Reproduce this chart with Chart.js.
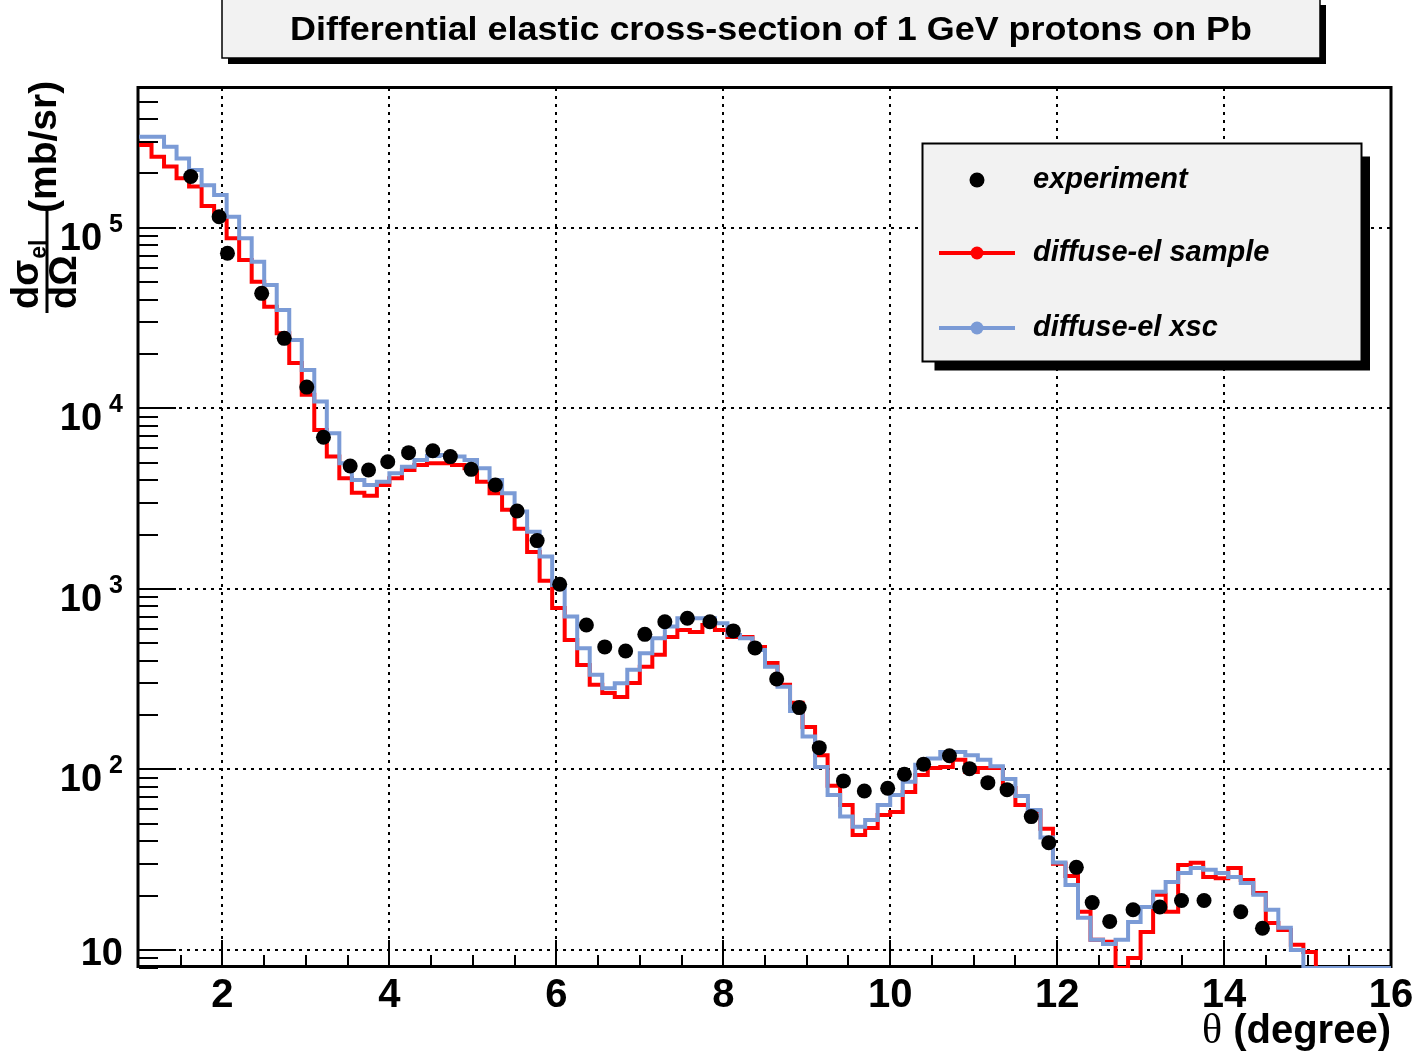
<!DOCTYPE html>
<html>
<head>
<meta charset="utf-8">
<title>Differential elastic cross-section of 1 GeV protons on Pb</title>
<script src="https://cdn.jsdelivr.net/npm/chart.js@4.4.1/dist/chart.umd.min.js"></script>
<style>
    html, body { margin: 0; padding: 0; background: #ffffff; }
    #wrap { width: 1416px; height: 1061px; }
</style>
</head>
<body>
<div id="wrap"><canvas id="myChart" width="1416" height="1061"></canvas></div>
<script>
// histogram binning: 100 bins of 0.15 degree starting at 1 degree
const BIN_LOW = 1.0;
const BIN_WIDTH = 0.15;
const X_MIN = 1, X_MAX = 16;
const Y_MIN = 7.95, Y_MAX = 5.94e5;

// measured points
const expTheta = [1.62, 1.96, 2.06, 2.47, 2.74, 3.01, 3.21, 3.53, 3.75, 3.98,
    4.23, 4.52, 4.73, 4.98, 5.27, 5.53, 5.77, 6.04, 6.36, 6.58,
    6.83, 7.06, 7.30, 7.57, 7.84, 8.12, 8.38, 8.64, 8.91, 9.15,
    9.44, 9.69, 9.97, 10.17, 10.40, 10.71, 10.95, 11.17, 11.40, 11.69,
    11.90, 12.23, 12.42, 12.63, 12.91, 13.23, 13.49, 13.76, 14.20, 14.46];
const expXsec = [1.92e5, 1.15e5, 7.22e4, 4.33e4, 2.44e4, 1.31e4, 6.91e3, 4.79e3, 4.55e3, 5.06e3,
    5.68e3, 5.82e3, 5.40e3, 4.59e3, 3.76e3, 2.70e3, 1.85e3, 1.06e3, 631, 477,
    453, 560, 658, 687, 658, 585, 471, 317, 220, 132,
    86.4, 76.0, 78.7, 94.0, 107, 119, 101, 84.5, 77.3, 54.8,
    39.3, 28.7, 18.3, 14.4, 16.7, 17.3, 18.8, 18.8, 16.3, 13.2];

// bin contents of the sampled histogram (red)
const sampleXsec = [2.87e5, 2.47e5, 2.18e5, 1.88e5, 1.69e5, 1.32e5, 1.15e5, 8.74e4, 6.63e4, 5.02e4,
    3.65e4, 2.60e4, 1.78e4, 1.19e4, 7.58e3, 5.40e3, 4.10e3, 3.41e3, 3.28e3, 3.76e3,
    4.10e3, 4.55e3, 4.85e3, 4.96e3, 4.96e3, 4.85e3, 4.65e3, 3.92e3, 3.38e3, 2.74e3,
    2.15e3, 1.60e3, 1.11e3, 784, 521, 379, 294, 265, 252, 301,
    370, 431, 542, 592, 577, 631, 592, 542, 542, 477,
    389, 294, 234, 172, 120, 81.1, 63.6, 43.4, 47.4, 56.0,
    58.2, 75.1, 93.2, 102, 103, 113, 96.9, 102, 102, 79.0,
    63.6, 58.9, 46.9, 30.0, 25.7, 16.3, 11.4, 11.1, 0, 9.04,
    12.6, 20.2, 16.3, 29.6, 30.4, 25.4, 25.0, 28.5, 24.4, 20.7,
    14.1, 12.9, 10.7, 9.76, 0, 0, 0, 0, 0, 0];

// bin contents of the cross-section histogram (blue)
const xscXsec = [3.19e5, 3.19e5, 2.81e5, 2.42e5, 2.09e5, 1.72e5, 1.52e5, 1.15e5, 8.74e4, 6.48e4,
    4.82e4, 3.50e4, 2.39e4, 1.63e4, 1.09e4, 7.27e3, 4.96e3, 4.01e3, 3.76e3, 3.92e3,
    4.37e3, 4.75e3, 5.17e3, 5.45e3, 5.52e3, 5.40e3, 5.17e3, 4.65e3, 4.01e3, 3.38e3,
    2.68e3, 2.07e3, 1.51e3, 1.05e3, 702, 469, 334, 282, 300, 356,
    440, 533, 618, 688, 688, 688, 645, 556, 533, 459,
    371, 287, 211, 152, 103, 72.2, 54.8, 48.2, 52.5, 63.6,
    72.2, 85.6, 106, 115, 125, 125, 120, 113, 104, 88.6,
    71.3, 59.7, 42.0, 30.5, 22.9, 15.1, 11.4, 10.8, 11.4, 14.3,
    17.3, 21.0, 23.8, 26.7, 28.5, 27.8, 26.7, 25.4, 23.5, 20.2,
    16.7, 13.3, 10.0, 0, 0, 0, 0, 0, 0, 0];

const xTickLabels = [2, 4, 6, 8, 10, 12, 14, 16];
const yDecades = [1, 2, 3, 4, 5];   // exponents of the labelled decades

const titleText = 'Differential elastic cross-section of 1 GeV protons on Pb';
const legendLabels = ['experiment', 'diffuse-el sample', 'diffuse-el xsc'];

const SANS = '"Liberation Sans", Arial, Helvetica, sans-serif';
const RED = '#ff0000';
const BLUE = '#7b9bd6';

// histogram -> step line points (left edge of each bin + closing right edge)
function histPoints(values) {
    const pts = values.map((v, i) => ({x: BIN_LOW + i * BIN_WIDTH, y: Math.max(v, Y_MIN)}));
    const last = values[values.length - 1];
    pts.push({x: BIN_LOW + values.length * BIN_WIDTH, y: Math.max(last, Y_MIN)});
    return pts;
}

function drawAxes(chart) {
    const {ctx, chartArea: a, scales: {x, y}} = chart;
    ctx.save();

    // dotted grid
    ctx.strokeStyle = '#000';
    ctx.lineWidth = 2;
    ctx.setLineDash([3, 5]);
    xTickLabels.forEach(v => {
        if (v >= X_MAX) return;
        const px = Math.round(x.getPixelForValue(v));
        ctx.beginPath(); ctx.moveTo(px, a.top); ctx.lineTo(px, a.bottom); ctx.stroke();
    });
    yDecades.forEach(e => {
        const py = Math.round(y.getPixelForValue(Math.pow(10, e)));
        ctx.beginPath(); ctx.moveTo(a.left, py); ctx.lineTo(a.right, py); ctx.stroke();
    });
    ctx.setLineDash([]);

    // x ticks (inside the frame)
    for (let k = 1; k < (X_MAX - X_MIN) * 2; k++) {
        const v = X_MIN + k * 0.5;
        const px = Math.round(x.getPixelForValue(v));
        const len = (v % 2 === 0) ? 28 : 13;
        ctx.beginPath(); ctx.moveTo(px, a.bottom); ctx.lineTo(px, a.bottom - len); ctx.stroke();
    }
    // y ticks, log scale
    for (let e = 0; e <= 5; e++) {
        for (let m = 1; m <= 9; m++) {
            const v = m * Math.pow(10, e);
            if (v < Y_MIN || v > Y_MAX) continue;
            const py = Math.round(y.getPixelForValue(v));
            const len = m === 1 ? 37 : 19;
            ctx.beginPath(); ctx.moveTo(a.left, py); ctx.lineTo(a.left + len, py); ctx.stroke();
        }
    }

    // frame
    ctx.lineWidth = 3;
    ctx.strokeRect(a.left - 1, a.top - 0.5, a.right - a.left + 1, a.bottom - a.top - 1);
    ctx.restore();
}

function drawLabels(chart) {
    const {ctx, scales: {x, y}} = chart;
    ctx.save();
    ctx.fillStyle = '#000';

    // x labels
    ctx.font = 'bold 40px ' + SANS;
    ctx.textAlign = 'center';
    ctx.textBaseline = 'alphabetic';
    xTickLabels.forEach(v => {
        ctx.fillText(String(v), x.getPixelForValue(v), 1007);
    });

    // y labels 10, 10^2 ... 10^5
    ctx.textAlign = 'right';
    yDecades.forEach(e => {
        const py = y.getPixelForValue(Math.pow(10, e));
        if (e === 1) {
            ctx.font = 'bold 38px ' + SANS;
            ctx.fillText('10', 123, py + 15);
            return;
        }
        ctx.font = 'bold 25px ' + SANS;
        const sup = String(e);
        const sw = ctx.measureText(sup).width;
        ctx.fillText(sup, 123, py + 4);
        ctx.font = 'bold 38px ' + SANS;
        ctx.fillText('10', 123 - sw - 7, py + 22);
    });

    // x title
    ctx.textAlign = 'left';
    ctx.font = 'bold 40px ' + SANS;
    const unit = ' (degree)';
    const uw = ctx.measureText(unit).width;
    ctx.fillText(unit, 1391 - uw, 1043);
    ctx.font = '42px "Liberation Serif", "DejaVu Serif", serif';
    const tw = ctx.measureText('θ').width;
    ctx.fillText('θ', 1391 - uw - tw, 1043);

    // y title: d sigma_el / d Omega (mb/sr), rotated
    ctx.translate(47, 313);
    ctx.rotate(-Math.PI / 2);
    ctx.textAlign = 'left';
    ctx.font = 'bold 38px ' + SANS;
    ctx.fillText('dσ', 4, -9);
    const nw = ctx.measureText('dσ').width;
    ctx.font = 'bold 23px ' + SANS;
    ctx.fillText('el', 4 + nw + 1, -1);
    ctx.font = 'bold 38px ' + SANS;
    ctx.fillText('dΩ', 4, 29);
    ctx.fillRect(0, -1.5, 106, 3);
    ctx.font = 'bold 39px ' + SANS;
    ctx.fillText('(mb/sr)', 100, 9);
    ctx.restore();
}

function drawTitle(chart) {
    const {ctx} = chart;
    ctx.save();
    // shadow then box
    ctx.fillStyle = '#000';
    ctx.fillRect(228, 5, 1098, 59);
    ctx.fillStyle = '#f2f2f2';
    ctx.fillRect(222, -2, 1098, 60);
    ctx.strokeStyle = '#000';
    ctx.lineWidth = 1.5;
    ctx.strokeRect(222, -2, 1098, 60);
    ctx.fillStyle = '#000';
    ctx.font = 'bold 33px ' + SANS;
    ctx.textAlign = 'center';
    ctx.textBaseline = 'alphabetic';
    // the original font runs a bit wider than Liberation Sans
    const w = ctx.measureText(titleText).width;
    ctx.translate(771, 40);
    ctx.scale(962 / w, 1);
    ctx.fillText(titleText, 0, 0);
    ctx.restore();
}

function drawLegend(chart) {
    const {ctx} = chart;
    const box = {x: 922.5, y: 143.5, w: 439, h: 218};
    ctx.save();
    ctx.fillStyle = '#000';
    ctx.fillRect(box.x + 12, box.y + 13, box.w - 3.5, box.h - 4);
    ctx.fillStyle = '#f2f2f2';
    ctx.fillRect(box.x, box.y, box.w, box.h);
    ctx.strokeStyle = '#000';
    ctx.lineWidth = 2;
    ctx.strokeRect(box.x, box.y, box.w, box.h);

    const rows = [180, 253, 328];
    const markerX = 977;
    const order = [2, 0, 1]; // experiment, sample, xsc
    order.forEach((di, r) => {
        const ds = chart.data.datasets[di];
        const yy = rows[r];
        if (ds.showLine !== false) {
            ctx.strokeStyle = ds.borderColor;
            ctx.lineWidth = 4;
            ctx.beginPath(); ctx.moveTo(939, yy); ctx.lineTo(1015, yy); ctx.stroke();
            ctx.fillStyle = ds.borderColor;
            ctx.beginPath(); ctx.arc(markerX, yy, 6.5, 0, Math.PI * 2); ctx.fill();
        } else {
            ctx.fillStyle = '#000';
            ctx.beginPath(); ctx.arc(markerX, yy, 7.5, 0, Math.PI * 2); ctx.fill();
        }
        ctx.fillStyle = '#000';
        ctx.font = 'italic bold 29px ' + SANS;
        ctx.textAlign = 'left';
        ctx.textBaseline = 'middle';
        ctx.fillText(legendLabels[r], 1033, yy);
    });
    ctx.restore();
}

const rootStyle = {
    id: 'rootStyle',
    beforeDatasetsDraw(chart) { drawAxes(chart); },
    afterDraw(chart) {
        drawLabels(chart);
        drawTitle(chart);
        drawLegend(chart);
    }
};

const ctx = document.getElementById('myChart').getContext('2d');
window.myChart = new Chart(ctx, {
    type: 'line',
    data: {
        datasets: [
            {
                label: legendLabels[1],
                data: histPoints(sampleXsec),
                borderColor: RED,
                borderWidth: 4,
                stepped: 'before',
                pointRadius: 0,
                fill: false,
                order: 3
            },
            {
                label: legendLabels[2],
                data: histPoints(xscXsec),
                borderColor: BLUE,
                borderWidth: 4,
                stepped: 'before',
                pointRadius: 0,
                fill: false,
                order: 2
            },
            {
                type: 'scatter',
                label: legendLabels[0],
                data: expTheta.map((t, i) => ({x: t, y: expXsec[i]})),
                showLine: false,
                pointRadius: 7.5,
                pointHoverRadius: 7.5,
                pointBorderWidth: 0,
                backgroundColor: '#000',
                borderColor: '#000',
                order: 1
            }
        ]
    },
    options: {
        responsive: false,
        devicePixelRatio: 1,
        animation: false,
        events: [],
        layout: {padding: {left: 139, top: 88, right: 25, bottom: 93}},
        plugins: {
            legend: {display: false},
            title: {display: false},
            tooltip: {enabled: false}
        },
        scales: {
            x: {type: 'linear', min: X_MIN, max: X_MAX, display: false},
            y: {type: 'logarithmic', min: Y_MIN, max: Y_MAX, display: false}
        }
    },
    plugins: [rootStyle]
});
</script>
</body>
</html>
